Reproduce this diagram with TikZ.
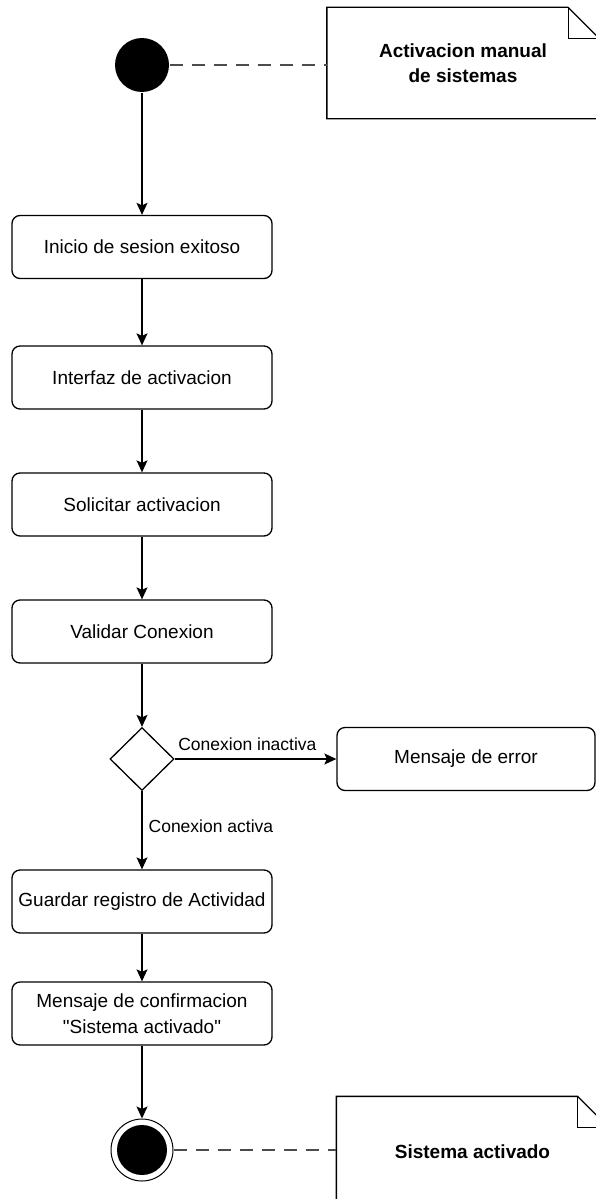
\documentclass[tikz,border=0pt]{standalone}
\usepackage{fontspec}
\setmainfont{Liberation Sans}[Ligatures=TeXOff]
\usetikzlibrary{arrows.meta,shapes.geometric}
\begin{document}
\begin{tikzpicture}[x=1pt,y=-1pt,
  line width=1.3pt,
  action/.style={draw, rounded corners=8pt, minimum width=260pt, minimum height=63pt,
    align=center, font=\fontsize{19}{26}\selectfont, inner sep=2pt},
  decision/.style={draw, diamond, minimum width=64pt, minimum height=63pt, inner sep=0pt, aspect=1},
  notearea/.style={minimum width=271pt, minimum height=110pt, inner sep=0pt,
    align=center, font=\fontsize{19}{25}\selectfont\bfseries},
  flow/.style={-{Stealth[length=12pt,width=11pt,inset=2.5pt]}},
  anchorline/.style={dashed, dash pattern=on 13pt off 9pt, draw=black!70},
  lbl/.style={font=\fontsize{17.5}{21}\selectfont, inner sep=0pt}]
\useasboundingbox (0,0) rectangle (595,1199);

% start and end markers
\node[circle, fill=black, minimum size=54pt, inner sep=0pt] (start) at (142,65) {};
\node[circle, draw, line width=1pt, fill=white, minimum size=62pt, inner sep=0pt] (stop) at (142,1150) {};
\node[circle, fill=black, minimum size=50pt, inner sep=0pt] (stopdot) at (142,1150) {};

% notes
\node[notearea] (note1) at (463,63) {Activacion manual\\de sistemas};
\node[notearea] (note2) at (472.5,1152) {Sistema activado};
\foreach \n in {note1,note2}{
  \draw (\n.north west) -- ([xshift=-31pt]\n.north east) -- ([yshift=-31pt]\n.north east)
        -- (\n.south east) -- (\n.south west) -- cycle;
  \draw ([xshift=-31pt]\n.north east) -- ([xshift=-31pt,yshift=-31pt]\n.north east)
        -- ([yshift=-31pt]\n.north east);
}

% activities
\node[action] (login) at (142,247) {Inicio de sesion exitoso};
\node[action] (iface) at (142,377.5) {Interfaz de activacion};
\node[action] (req) at (142,504.5) {Solicitar activacion};
\node[action] (check) at (142,631.5) {Validar Conexion};
\node[decision] (dec) at (142,759) {};
\node[action, minimum width=258pt] (err) at (466,759) {Mensaje de error};
\node[action] (log) at (142,901.5) {Guardar registro de Actividad};
\node[action] (confirm) at (142,1013.5) {Mensaje de confirmacion\\"Sistema activado"};

% flow
\draw[flow] (start) -- (login);
\draw[flow] (login) -- (iface);
\draw[flow] (iface) -- (req);
\draw[flow] (req) -- (check);
\draw[flow] (check) -- (dec);
\draw[flow] (dec.east) -- node[lbl, above=8pt, pos=0.45] {Conexion inactiva} (err.west);
\draw[flow] (dec.south) -- node[lbl, right=6pt, pos=0.45] {Conexion activa} (log.north);
\draw[flow] (log) -- (confirm);
\draw[flow] (confirm) -- (stop);

% note anchors
\draw[anchorline] (start.east) -- (note1.west |- start.east);
\draw[anchorline] (stop.east) -- (note2.west |- stop.east);
\end{tikzpicture}
\end{document}
